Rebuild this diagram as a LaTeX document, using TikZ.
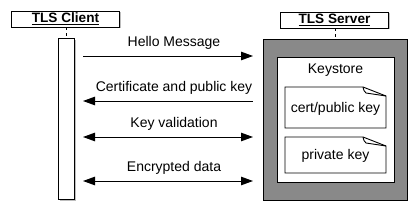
\documentclass[tikz,border=0pt]{standalone}
\usepackage{fontspec}
\setmainfont{Liberation Sans}
\usetikzlibrary{positioning,calc,arrows.meta,shadows}
\definecolor{Gris}{HTML}{898989}
\definecolor{Ombre}{HTML}{BDBDBD}

\tikzset{
  entete/.style={draw, fill=white, minimum width=108, minimum height=16, inner sep=0,
    font=\fontsize{13.6}{15}\selectfont\bfseries, drop shadow={shadow xshift=1.5pt, shadow yshift=-1.5pt, fill=Ombre, opacity=1}},
  texte/.style={font=\fontsize{14}{16}\selectfont},
  >={Triangle[length=12pt,width=8.5pt]}
}

\begin{document}
\begin{tikzpicture}[x=1pt,y=1pt,line width=0.9pt]
  \useasboundingbox (0,0) rectangle (418,-211);
  % les deux parties
  \node[entete] (client) at (65.5,-19) {\underline{TLS Client}};
  \node[entete] (serveur) at (334.5,-20) {\underline{TLS Server}};
  \node[draw, fill=white, minimum width=16, minimum height=161, anchor=north,
    drop shadow={shadow xshift=1.5pt, shadow yshift=-1.5pt, fill=Ombre, opacity=1}] (barre) at (66,-38) {};
  \node[draw, fill=Gris, minimum width=144, minimum height=161, anchor=north] (boite) at (335,-39) {};
  \draw[dashed] (client.south -| barre.north) -- (barre.north);
  \draw[dashed] (serveur.south -| boite.north) -- (boite.north);
  % keystore
  \node[draw, fill=white, minimum width=117, minimum height=125, anchor=north] (keystore) at (335.5,-57) {};
  \node[texte] (titre) at (335.5,-70) {Keystore};
  \foreach \haut/\bas/\nom [count=\i] in {87/128/{cert/public key}, 137/173/{private key}}{
    \filldraw[fill=white] (285,-\haut) -- (363,-\haut) -- (386,-\haut-9) -- (386,-\bas) -- (285,-\bas) -- cycle;
    \draw (363,-\haut) .. controls (364,-\haut-4) .. (366,-\haut-6) -- (386,-\haut-9);
    \node[texte] (cle\i) at (335.5,{-(\haut+\bas)/2-1}) {\nom};
  }
  % messages
  \foreach \msg/\y/\fleche [count=\i] in {Hello Message/56/->, Certificate and public key/101/<-, Key validation/137/<->, Encrypted data/181/<->}{
    \coordinate (g\i) at (83,-\y);
    \coordinate (d\i) at (253,-\y);
    \draw[\fleche] (g\i) -- (d\i);
    \node[texte, anchor=south] (m\i) at ($(g\i)!.5!(d\i)+(6,3)$) {\msg};
  }
\end{tikzpicture}
\end{document}
